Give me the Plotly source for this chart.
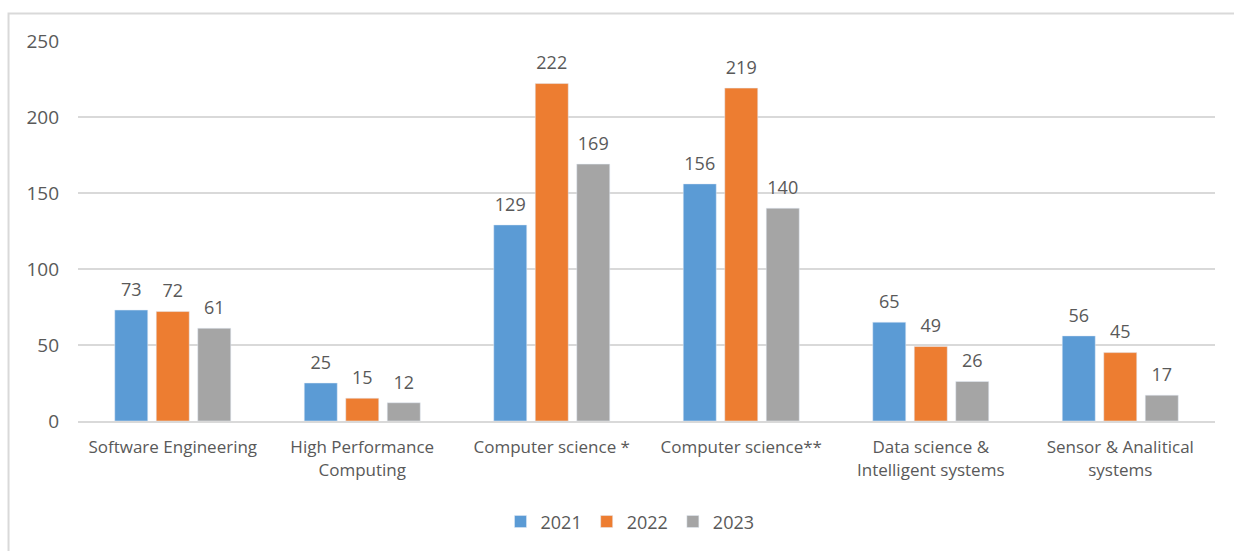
import plotly.graph_objects as go

categories = [
    "Software Engineering",
    "High Performance<br>Computing",
    "Computer science *",
    "Computer science**",
    "Data science &<br>Intelligent systems",
    "Sensor & Analitical<br>systems",
]
years = ["2021", "2022", "2023"]
values_2021 = [73, 25, 129, 156, 65, 56]
values_2022 = [72, 15, 222, 219, 49, 45]
values_2023 = [61, 12, 169, 140, 26, 17]
y_ticks = [0, 50, 100, 150, 200, 250]

colors = ["#5B9BD5", "#ED7D31", "#A5A5A5"]
TXT = "#595959"
GRID = "#D9D9D9"
FONT = "Open Sans"
GAP = 0.343

fig = go.Figure()
for name, vals, c in zip(years, [values_2021, values_2022, values_2023], colors):
    fig.add_trace(go.Bar(x=categories, y=vals, name=name, marker_color=c,
                         offsetgroup=name, alignmentgroup="a"))
# value labels: grouped text scatter so the gap above each bar can be set
for name, vals in zip(years, [values_2021, values_2022, values_2023]):
    fig.add_trace(go.Scatter(
        x=categories, y=vals, mode="markers+text", text=vals,
        textposition="top center", offsetgroup=name, alignmentgroup="a",
        marker=dict(size=14, color="rgba(0,0,0,0)"), cliponaxis=False,
        textfont=dict(family=FONT, size=18, color=TXT),
        showlegend=False, hoverinfo="skip",
    ))

# outer chart frame (right and bottom edges fall outside the picture)
fig.add_shape(type="rect", xref="paper", yref="paper",
              x0=-0.0611, x1=1.04, y0=-0.4, y1=1.0722,
              line=dict(color=GRID, width=2), layer="below")

fig.update_layout(
    width=1234, height=551,
    margin=dict(l=78, r=19, t=41, b=129),
    paper_bgcolor="white", plot_bgcolor="white",
    barmode="group", bargap=GAP, bargroupgap=0.205,
    scattermode="group", scattergap=GAP,
    font=dict(family=FONT, color=TXT),
    legend=dict(orientation="h", x=0.4855, xanchor="center", y=-0.262, yanchor="middle",
                font=dict(size=18, color=TXT), itemwidth=30, traceorder="normal"),
)
fig.update_xaxes(tickfont=dict(size=17, color=TXT), showline=True, linecolor=GRID,
                 linewidth=2, ticks="", showgrid=False, ticklabelstandoff=10)
fig.update_yaxes(range=[0, 250], tickvals=y_ticks, tickfont=dict(size=19, color=TXT),
                 showgrid=True, gridcolor=GRID, gridwidth=2, zeroline=False,
                 showline=False, ticks="", ticklabelstandoff=18)

# drop the browser's default page margin and scrollbars so the figure fills the window
fig.write_html("out.html", config={"displayModeBar": False},
               post_script="document.body.style.margin='0';"
                           "document.body.style.overflow='hidden';")
